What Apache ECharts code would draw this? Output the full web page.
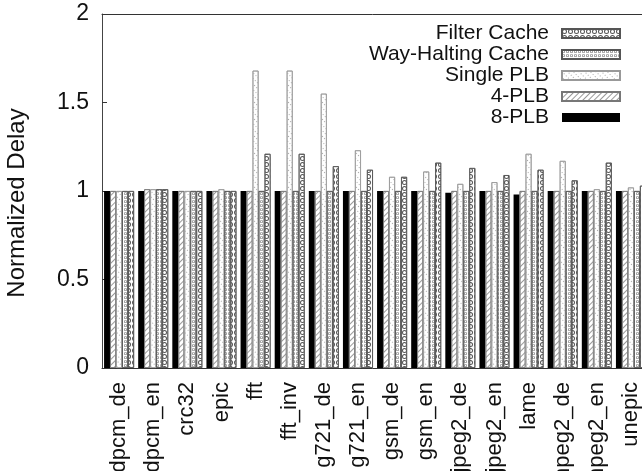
<!DOCTYPE html>
<html><head><meta charset="utf-8">
<script src="https://cdn.jsdelivr.net/npm/echarts@6/dist/echarts.min.js"></script>
<style>html,body{margin:0;padding:0;background:#fff}#c{width:642px;height:471px}</style>
</head><body><div id="c"></div>
<script>
const categories = ['adpcm_de','adpcm_en','crc32','epic','fft','fft_inv','g721_de','g721_en','gsm_de','gsm_en','jpeg2_de','jpeg2_en','lame','mpeg2_de','mpeg2_en','unepic'];
const plb8       = [1, 1,    1, 1,    1,    1,    1,    1,    1,    1,    0.99, 1,    0.98, 1,    1,    1];
const plb4       = [1, 1.01, 1, 1,    1,    1,    1,    1,    1,    1,    1,    1,    1,    1,    1,    1];
const plbSingle  = [1, 1.01, 1, 1.01, 1.68, 1.68, 1.55, 1.23, 1.08, 1.11, 1.04, 1.05, 1.21, 1.17, 1.01, 1.02];
const wayHalting = [1, 1.01, 1, 1,    1,    1,    1,    1,    1,    1,    1,    1,    1,    1,    1,    1];
const filterCache= [1, 1.01, 1, 1,    1.21, 1.21, 1.14, 1.12, 1.08, 1.16, 1.13, 1.09, 1.12, 1.06, 1.16, 1.03];
const yTicks = [0, 0.5, 1, 1.5, 2];
const legendOrder = ['Filter Cache','Way-Halting Cache','Single PLB','4-PLB','8-PLB'];

const FONT = 'Liberation Sans, Arial, Helvetica, sans-serif';
const RING = 'path://M5 0A5 5 0 1 1 5 10A5 5 0 1 1 5 0ZM5 2A3 3 0 1 0 5 8A3 3 0 1 0 5 2Z';
const border = {borderColor: '#555', borderWidth: 0.8};

const chart = echarts.init(document.getElementById('c'), null, {renderer: 'canvas'});
function bar(name, data, itemStyle) {
  return {name, type: 'bar', data, barWidth: 6, barGap: '0%', barCategoryGap: '0%',
          itemStyle, emphasis: {disabled: true}, animation: false};
}
chart.setOption({
  animation: false,
  backgroundColor: '#fff',
  grid: {left: 102, right: -6, top: 14, bottom: 103, containLabel: false, outerBoundsMode: 'none'},
  legend: {
    data: legendOrder, orient: 'vertical', align: 'right', right: 16, top: 18,
    itemWidth: 58, itemHeight: 9, itemGap: 0, icon: 'rect', selectedMode: false,
    textStyle: {fontFamily: FONT, fontSize: 21, color: '#111', lineHeight: 20.7, padding: [0, 8, 0, 0]}
  },
  xAxis: [{
    type: 'category', data: categories, position: 'bottom',
    axisLine: {lineStyle: {color: '#333', width: 1}},
    axisTick: {inside: true, alignWithLabel: true, length: 5, lineStyle: {color: '#333'}},
    axisLabel: {rotate: 90, fontSize: 22, fontFamily: FONT, color: '#111', margin: 14, interval: 0}
  }, {
    type: 'category', data: categories, position: 'top',
    axisLine: {lineStyle: {color: '#333', width: 1}},
    axisTick: {inside: true, alignWithLabel: true, length: 5, lineStyle: {color: '#333'}},
    axisLabel: {show: false}
  }],
  yAxis: {
    type: 'value', min: yTicks[0], max: yTicks[yTicks.length - 1], interval: yTicks[1] - yTicks[0],
    axisLine: {show: true, lineStyle: {color: '#444', width: 1}},
    axisTick: {show: true, inside: true, length: 5, lineStyle: {color: '#333'}},
    splitLine: {show: false},
    axisLabel: {fontSize: 23, fontFamily: FONT, color: '#111', margin: 13, formatter: v => String(v)},
    name: 'Normalized Delay', nameLocation: 'middle', nameGap: 73, nameRotate: 90,
    nameTextStyle: {fontSize: 24, fontFamily: FONT, color: '#111', padding: [0, 24, 0, 0]}
  },
  series: [
    bar('8-PLB', plb8, {color: '#000'}),
    bar('4-PLB', plb4, Object.assign({color: '#fff', decal: {
      symbol: 'rect', symbolSize: 1, color: '#999', dashArrayX: [1, 0], dashArrayY: [1, 3], rotation: -Math.PI / 4}}, {borderColor: '#777', borderWidth: 0.8})),
    bar('Single PLB', plbSingle, Object.assign({color: '#fff', decal: {
      symbol: 'rect', symbolSize: 1, color: '#aaa', dashArrayX: [1, 1.5], dashArrayY: [1, 3], rotation: Math.PI / 4}}, {borderColor: '#999', borderWidth: 0.8})),
    bar('Way-Halting Cache', wayHalting, Object.assign({color: '#fff', decal: {
      symbol: RING, symbolSize: 1, color: '#666', dashArrayX: [3, 0.5], dashArrayY: [3, 0.5], rotation: 0}}, border)),
    bar('Filter Cache', filterCache, Object.assign({color: '#fff', decal: {
      symbol: RING, symbolSize: 1, color: '#555', dashArrayX: [4.5, 0.5], dashArrayY: [4.5, 0.5], rotation: 0}}, border))
  ]
});
</script></body></html>
